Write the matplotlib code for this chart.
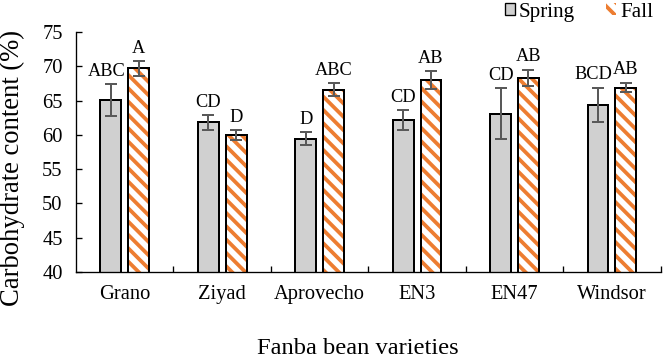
import numpy as np
import matplotlib
matplotlib.use("Agg")
import matplotlib.pyplot as plt
from matplotlib.patches import Patch

# ── Data ─────────────────────────────────────────────────────────────────
varieties = ["Grano", "Ziyad", "Aprovecho", "EN3", "EN47", "Windsor"]
spring = [65.1, 61.8, 59.4, 62.2, 63.1, 64.4]
spring_err = [2.3, 1.05, 0.95, 1.45, 3.7, 2.5]
fall = [69.7, 60.0, 66.6, 68.0, 68.3, 66.9]
fall_err = [1.1, 0.7, 0.95, 1.3, 1.2, 0.7]
spring_letters = ["ABC", "CD", "D", "CD", "CD", "BCD"]
fall_letters = ["A", "D", "ABC", "AB", "AB", "AB"]

plt.rcParams["font.family"] = ["Liberation Serif", "DejaVu Serif"]
plt.rcParams["hatch.linewidth"] = 3.4

GREY = "#d0d0d0"
ORANGE = "#ed7d31"
ERR = "#595959"
HATCH = "\\\\"

# dpi 80 so the hatch spacing matches the reference
fig = plt.figure(figsize=(8.3, 4.4875), dpi=80)
ax = fig.add_axes([0.1145, 0.2423, 0.8805, 0.6687])

x = np.arange(len(varieties))
w = 0.215
off = 0.143

ax.bar(x - off, spring, w, color=GREY, edgecolor="black", linewidth=1.8, zorder=2)
ax.bar(x + off, fall, w, color="white", edgecolor=ORANGE, hatch=HATCH, linewidth=0, zorder=2)
ax.bar(x + off, fall, w, fill=False, edgecolor="black", linewidth=1.8, zorder=3)

ax.errorbar(x - off, spring, yerr=spring_err, fmt="none", ecolor=ERR, elinewidth=1.8,
            capsize=5.5, capthick=1.8, zorder=4)
ax.errorbar(x + off, fall, yerr=fall_err, fmt="none", ecolor=ERR, elinewidth=1.8,
            capsize=5.5, capthick=1.8, zorder=4)

# long labels sit a little left of their bar, as in the original
for xi, v, e, t in zip(x - off, spring, spring_err, spring_letters):
    dx = -4 if len(t) > 2 else 0
    ax.annotate(t, (xi, v + e + 1.2), xytext=(dx, 0), textcoords="offset points",
                ha="center", va="baseline", fontsize=16.5)
for xi, v, e, t in zip(x + off, fall, fall_err, fall_letters):
    ax.annotate(t, (xi, v + e + 1.2), xytext=(0, 0), textcoords="offset points",
                ha="center", va="baseline", fontsize=16.5)

ax.set_ylim(40, 75)
ax.set_yticks(range(40, 76, 5))
ax.set_xlim(-0.5, len(varieties) - 0.5)
ax.set_xticks(x)
ax.set_xticklabels(varieties)
ax.set_xticks(np.arange(len(varieties)) + 0.5, minor=True)
ax.tick_params(axis="x", which="major", length=0, pad=12, labelsize=18.5)
ax.tick_params(axis="x", which="minor", direction="in", length=5, width=1.2)
ax.tick_params(axis="y", direction="in", length=5, width=1.2, labelsize=18.5, pad=12)

for s in ["top", "right"]:
    ax.spines[s].set_visible(False)
for s in ["left", "bottom"]:
    ax.spines[s].set_linewidth(1.2)

ax.set_ylabel("Carbohydrate content (%)", fontsize=24)
ax.yaxis.set_label_coords(-0.109, 0.435)
ax.set_xlabel("Fanba bean varieties", fontsize=22)
ax.xaxis.set_label_coords(0.482, -0.317)
ax.xaxis.label.set_va("center")
ax.yaxis.label.set_va("center")

handles = [
    Patch(facecolor=GREY, edgecolor="black", linewidth=1.2),
    Patch(facecolor="white", edgecolor=ORANGE, hatch=HATCH, linewidth=0),
]
leg = fig.legend(handles, ["Spring", "Fall"], loc="center right", bbox_to_anchor=(0.984, 0.966),
                 ncol=2, frameon=False, fontsize=19, handlelength=0.47, handleheight=0.47,
                 handletextpad=0.19, columnspacing=1.5, borderaxespad=0, borderpad=0)

fig.savefig("out.png", dpi=80)
